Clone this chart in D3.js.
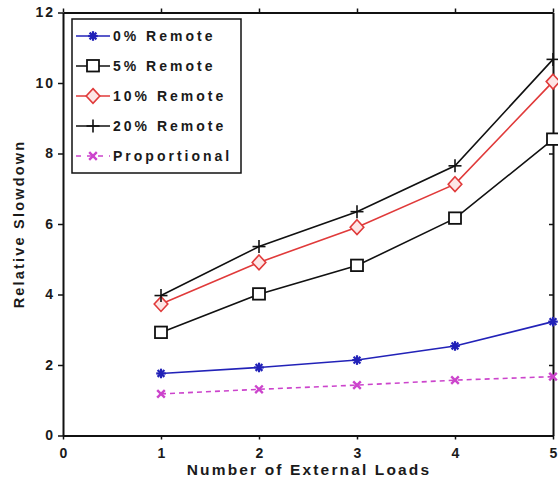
<!DOCTYPE html>
<html>
<head>
<meta charset="utf-8">
<script src="https://cdn.jsdelivr.net/npm/d3@7"></script>
<style>
  html, body { margin: 0; padding: 0; background: #fff; }
  svg { display: block; }
  text { font-family: "Liberation Sans", Arial, sans-serif; font-weight: bold; fill: #1a1a1a; }
</style>
</head>
<body>
<svg id="chart" width="558" height="486"></svg>
<script>
// Relative slowdown vs number of external loads
const loads = [1, 2, 3, 4, 5];
const remote0 = [1.76, 1.93, 2.14, 2.54, 3.23];
const remote5 = [2.92, 4.01, 4.82, 6.16, 8.40];
const remote10 = [3.73, 4.91, 5.91, 7.13, 10.04];
const remote20 = [3.97, 5.36, 6.35, 7.65, 10.67];
const proportional = [1.18, 1.31, 1.43, 1.57, 1.67];
const xTicks = [0, 1, 2, 3, 4, 5];
const yTicks = [0, 2, 4, 6, 8, 10, 12];
const seriesNames = ["0% Remote", "5% Remote", "10% Remote", "20% Remote", "Proportional"];

const series = [
  { name: seriesNames[0], values: remote0, color: "#2222b8", marker: "asterisk", dash: null },
  { name: seriesNames[1], values: remote5, color: "#111111", marker: "square", dash: null },
  { name: seriesNames[2], values: remote10, color: "#e03a3a", marker: "diamond", dash: null },
  { name: seriesNames[3], values: remote20, color: "#111111", marker: "plus", dash: null },
  { name: seriesNames[4], values: proportional, color: "#cc44cc", marker: "cross", dash: "5,4" }
];

const svg = d3.select("#chart");
const plotLeft = 63, plotRight = 553, plotTop = 12.5, plotBottom = 435.5;

const x = d3.scaleLinear().domain([0, 5]).range([plotLeft, plotRight]);
const y = d3.scaleLinear().domain([0, 12]).range([plotBottom, plotTop]);

// Axes on all four sides of the frame
const axisStyle = g => {
  g.select(".domain").attr("stroke", "#111").attr("stroke-width", 2);
  g.selectAll(".tick line").attr("stroke", "#111").attr("stroke-width", 1.5);
  g.selectAll("text").attr("font-size", 14).attr("letter-spacing", "2px")
    .attr("fill", "#1a1a1a").style("font-family", "'Liberation Sans', Arial, sans-serif")
    .style("font-weight", "bold");
};

svg.append("g").attr("transform", `translate(0,${plotBottom})`)
  .call(d3.axisBottom(x).tickValues(xTicks).tickFormat(d3.format("d")).tickSize(4).tickSizeOuter(0).tickPadding(8.5))
  .call(axisStyle)
  .call(g => g.selectAll("text").attr("dx", "1px"));

svg.append("g").attr("transform", `translate(${plotLeft},0)`)
  .call(d3.axisLeft(y).tickValues(yTicks).tickFormat(d3.format("d")).tickSize(5).tickSizeOuter(0).tickPadding(3))
  .call(axisStyle);

svg.append("g").attr("transform", `translate(0,${plotTop})`)
  .call(d3.axisTop(x).tickValues(xTicks).tickFormat("").tickSize(4).tickSizeOuter(0))
  .call(axisStyle);

svg.append("g").attr("transform", `translate(${plotRight},0)`)
  .call(d3.axisRight(y).tickValues(yTicks).tickFormat("").tickSize(-4).tickSizeOuter(0))
  .call(axisStyle);

// Axis titles
svg.append("text")
  .attr("x", (plotLeft + plotRight) / 2 + 1).attr("y", 475)
  .attr("text-anchor", "middle").attr("font-size", 15.5).attr("letter-spacing", "2.15px")
  .text("Number of External Loads");

svg.append("text")
  .attr("transform", `translate(24,${(plotTop + plotBottom) / 2}) rotate(-90)`)
  .attr("text-anchor", "middle").attr("font-size", 14.5).attr("letter-spacing", "2.2px")
  .text("Relative Slowdown");

// Marker drawing
function drawMarker(g, type, color) {
  if (type === "asterisk") {
    const r = 4.8;
    [0, 45, 90, 135].forEach(a => {
      const t = a * Math.PI / 180;
      g.append("line")
        .attr("x1", -r * Math.cos(t)).attr("y1", -r * Math.sin(t))
        .attr("x2", r * Math.cos(t)).attr("y2", r * Math.sin(t))
        .attr("stroke", color).attr("stroke-width", 2.2);
    });
  } else if (type === "square") {
    g.append("rect").attr("x", -6).attr("y", -6).attr("width", 12).attr("height", 11.5)
      .attr("fill", "#fff").attr("stroke", color).attr("stroke-width", 1.8);
  } else if (type === "diamond") {
    g.append("path").attr("d", "M0,-7.4L6.8,0L0,7.4L-6.8,0Z")
      .attr("fill", "#fde6e6").attr("stroke", color).attr("stroke-width", 1.6);
  } else if (type === "plus") {
    g.append("line").attr("x1", -6.5).attr("x2", 6.5).attr("y1", 0).attr("y2", 0)
      .attr("stroke", color).attr("stroke-width", 1.6);
    g.append("line").attr("x1", 0).attr("x2", 0).attr("y1", -6.5).attr("y2", 6.5)
      .attr("stroke", color).attr("stroke-width", 1.6);
  } else if (type === "cross") {
    const r = 3.8;
    g.append("line").attr("x1", -r).attr("y1", -r).attr("x2", r).attr("y2", r)
      .attr("stroke", color).attr("stroke-width", 2.4);
    g.append("line").attr("x1", -r).attr("y1", r).attr("x2", r).attr("y2", -r)
      .attr("stroke", color).attr("stroke-width", 2.4);
  }
}

// Series lines and markers
const line = d3.line().x((d, i) => x(loads[i])).y(d => y(d));
const plot = svg.append("g");

series.forEach(s => {
  plot.append("path")
    .datum(s.values)
    .attr("d", line)
    .attr("fill", "none")
    .attr("stroke", s.color)
    .attr("stroke-width", 1.6)
    .attr("stroke-dasharray", s.dash);
  s.values.forEach((v, i) => {
    const g = plot.append("g").attr("transform", `translate(${x(loads[i])},${y(v)})`);
    drawMarker(g, s.marker, s.color);
  });
});

// Legend
const legend = svg.append("g");
legend.append("rect")
  .attr("x", 72).attr("y", 19).attr("width", 169).attr("height", 154)
  .attr("fill", "#fff").attr("stroke", "#111").attr("stroke-width", 1.5);

series.forEach((s, i) => {
  const ry = 36 + i * 30;
  legend.append("line")
    .attr("x1", 76).attr("x2", 110).attr("y1", ry).attr("y2", ry)
    .attr("stroke", s.color).attr("stroke-width", 1.6)
    .attr("stroke-dasharray", s.dash ? "5,6" : null);
  const g = legend.append("g").attr("transform", `translate(93,${ry})`);
  drawMarker(g, s.marker, s.color);
  legend.append("text")
    .attr("x", 113).attr("y", ry + 5)
    .attr("font-size", 14).attr("letter-spacing", "3px")
    .text(s.name);
});
</script>
</body>
</html>
